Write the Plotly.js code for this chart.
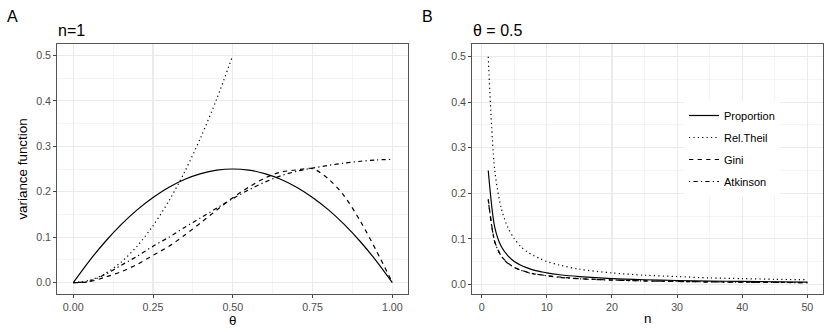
<!DOCTYPE html>
<html>
<head>
<meta charset="utf-8">
<script src="https://cdn.plot.ly/plotly-3.0.1.min.js"></script>
<style>
  body { margin: 0; background: #fff; }
  #myPlot { width: 830px; height: 335px; }
</style>
</head>
<body>
<div id="myPlot"></div>
<script>
// panel A : n = 1, variance function against theta
var thetaVals = [0, 0.05, 0.1, 0.15, 0.2, 0.25, 0.3, 0.35, 0.4, 0.45, 0.5,
                 0.55, 0.6, 0.65, 0.7, 0.75, 0.8, 0.85, 0.9, 0.95, 1];
var propA  = [0, 0.0475, 0.09, 0.1275, 0.16, 0.1875, 0.21, 0.2275, 0.24, 0.2475, 0.25,
              0.2475, 0.24, 0.2275, 0.21, 0.1875, 0.16, 0.1275, 0.09, 0.0475, 0];
var theilThetaVals = [0, 0.05, 0.1, 0.15, 0.2, 0.25, 0.3, 0.35, 0.4, 0.45, 0.5];
var theilA = [0, 0.005, 0.02, 0.045, 0.08, 0.125, 0.18, 0.245, 0.32, 0.405, 0.5];
var giniA  = [0, 0.002, 0.012, 0.024, 0.04, 0.06, 0.08, 0.105, 0.132, 0.16, 0.187,
              0.21, 0.23, 0.243, 0.248, 0.251, 0.228, 0.19, 0.135, 0.07, 0];
var atkA   = [0, 0.003, 0.018, 0.038, 0.058, 0.08, 0.1, 0.122, 0.143, 0.164, 0.185,
              0.204, 0.221, 0.235, 0.245, 0.252, 0.258, 0.263, 0.267, 0.27, 0.271];

// panel B : theta = 0.5, variance function against n
var nVals  = [1, 2, 3, 4, 5, 6, 7, 8, 9, 10, 12, 15, 20, 25, 30, 35, 40, 45, 50];
var propB  = [0.25, 0.125, 0.083, 0.063, 0.05, 0.042, 0.036, 0.031, 0.028, 0.025,
              0.021, 0.017, 0.0125, 0.01, 0.0083, 0.0071, 0.0063, 0.0056, 0.005];
var theilB = [0.5, 0.25, 0.167, 0.125, 0.1, 0.083, 0.071, 0.063, 0.056, 0.05,
              0.042, 0.033, 0.025, 0.02, 0.017, 0.014, 0.0125, 0.011, 0.01];
var giniB  = [0.187, 0.094, 0.062, 0.047, 0.037, 0.031, 0.027, 0.023, 0.021, 0.019,
              0.016, 0.0125, 0.0094, 0.0075, 0.0062, 0.0054, 0.0047, 0.0042, 0.0037];
var atkB   = [0.185, 0.093, 0.062, 0.046, 0.037, 0.031, 0.026, 0.023, 0.021, 0.0185,
              0.015, 0.012, 0.0093, 0.0074, 0.0062, 0.0053, 0.0046, 0.0041, 0.0037];

var seriesNames = ["Proportion", "Rel.Theil", "Gini", "Atkinson"];
var xTicksA = [0, 0.25, 0.5, 0.75, 1];
var xTicksB = [0, 10, 20, 30, 40, 50];
var yTicks  = [0, 0.1, 0.2, 0.3, 0.4, 0.5];

var fontFam = "Liberation Sans, Arial, sans-serif";
var dashes = ["solid", "1.2px,3.2px", "4.3px,4.3px", "1.2px,3.2px,4.3px,3.2px"];

function ln(x, y, i, xa, ya, leg, shape) {
  return {
    x: x, y: y, name: seriesNames[i], xaxis: xa, yaxis: ya,
    type: "scatter", mode: "lines", showlegend: leg, legendgroup: "g" + i,
    line: {color: "#000000", width: 1.2, dash: dashes[i], shape: shape, smoothing: 0.8},
    hoverinfo: "skip"
  };
}

var data = [
  ln(thetaVals, propA, 0, "x", "y", false, "spline"),
  ln(theilThetaVals, theilA, 1, "x", "y", false, "spline"),
  ln(thetaVals, giniA, 2, "x", "y", false, "spline"),
  ln(thetaVals, atkA, 3, "x", "y", false, "spline"),
  ln(nVals, propB, 0, "x2", "y2", true, "spline"),
  ln(nVals, theilB, 1, "x2", "y2", true, "spline"),
  ln(nVals, giniB, 2, "x2", "y2", true, "spline"),
  ln(nVals, atkB, 3, "x2", "y2", true, "spline")
];

function axisBase() {
  return {
    showline: true, mirror: true, linecolor: "#555555", linewidth: 1.1,
    ticks: "outside", ticklen: 3, tickwidth: 1, tickcolor: "#444444",
    tickfont: {family: fontFam, size: 10.7, color: "#4D4D4D"},
    showgrid: true, gridcolor: "#EBEBEB", gridwidth: 1.1,
    zeroline: false, fixedrange: true
  };
}

var xa = axisBase();
xa.domain = [57.3 / 830, 408.3 / 830];
xa.range = [-0.05, 1.05];
xa.tickvals = xTicksA;
xa.ticktext = xTicksA.map(function (v) { return v.toFixed(2); });
xa.minor = {dtick: 0.125, tick0: 0, showgrid: true, gridcolor: "#EBEBEB", gridwidth: 0.55, ticklen: 0};
xa.title = {text: "θ", font: {family: fontFam, size: 13.4, color: "#000"}, standoff: 1};
xa.anchor = "y";

var ya = axisBase();
ya.domain = [1 - 294 / 335, 1 - 44 / 335];
ya.range = [-0.025, 0.525];
ya.tickvals = yTicks;
ya.ticktext = yTicks.map(function (v) { return v.toFixed(1); });
ya.minor = {dtick: 0.05, tick0: 0, showgrid: true, gridcolor: "#EBEBEB", gridwidth: 0.55, ticklen: 0};
ya.title = {text: "variance function", font: {family: fontFam, size: 13.4, color: "#000"}, standoff: 5};
ya.anchor = "x";

var xb = axisBase();
xb.domain = [472.3 / 830, 823.3 / 830];
xb.range = [-1.45, 52.45];
xb.tickvals = xTicksB;
xb.ticktext = xTicksB.map(String);
xb.minor = {dtick: 5, tick0: 0, showgrid: true, gridcolor: "#EBEBEB", gridwidth: 0.55, ticklen: 0};
xb.title = {text: "n", font: {family: fontFam, size: 13.4, color: "#000"}, standoff: 1};
xb.anchor = "y2";

var yb = axisBase();
yb.domain = [1 - 294 / 335, 1 - 44 / 335];
yb.range = [-0.0213, 0.5278];
yb.tickvals = yTicks;
yb.ticktext = yTicks.map(function (v) { return v.toFixed(1); });
yb.minor = {dtick: 0.05, tick0: 0, showgrid: true, gridcolor: "#EBEBEB", gridwidth: 0.55, ticklen: 0};
yb.anchor = "x2";

function note(txt, px, py, size) {
  return {
    text: txt, xref: "paper", yref: "paper", x: px / 830, y: 1 - py / 335,
    xanchor: "left", yanchor: "middle", showarrow: false,
    font: {family: fontFam, size: size, color: "#000"}
  };
}

var layout = {
  width: 830, height: 335,
  margin: {l: 0, r: 0, t: 0, b: 0},
  paper_bgcolor: "#ffffff", plot_bgcolor: "#ffffff",
  xaxis: xa, yaxis: ya, xaxis2: xb, yaxis2: yb,
  showlegend: true,
  legend: {
    x: 684 / 830, y: 1 - 101 / 335, xanchor: "left", yanchor: "top",
    bgcolor: "#ffffff", borderwidth: 0,
    font: {family: fontFam, size: 11, color: "#000"},
    itemwidth: 30, tracegroupgap: 3
  },
  annotations: [
    note("A", 5, 16, 16),
    note("n=1", 56, 30, 16),
    note("B", 420, 16, 16),
    note("θ = 0.5", 471, 30, 16)
  ]
};

Plotly.newPlot("myPlot", data, layout, {displayModeBar: false, staticPlot: true});
</script>
</body>
</html>
